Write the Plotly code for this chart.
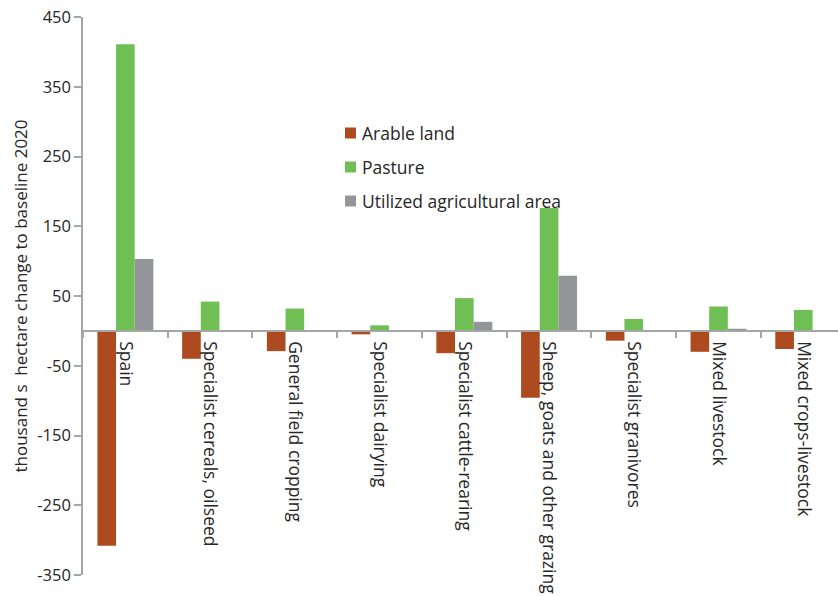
import plotly.graph_objects as go

# Farm types and change in land use versus the 2020 baseline (thousand hectares)
categories = [
    "Spain",
    "Specialist cereals, oilseed",
    "General field cropping",
    "Specialist dairying",
    "Specialist cattle-rearing",
    "Sheep, goats and other grazing",
    "Specialist granivores",
    "Mixed livestock",
    "Mixed crops-livestock",
]
arable_land = [-308, -40, -29, -5, -32, -96, -14, -30, -26]
pasture = [411, 42, 32, 8, 47, 176, 17, 35, 30]
utilized_area = [103, 0, 1, 0, 13, 79, 0.6, 3, 1]

y_ticks = [450, 350, 250, 150, 50, -50, -150, -250, -350]
y_tick_labels = ["450", "350", "250", "150", "50", "-50", "-150", "-250", "-350"]

FONT = "Open Sans"
TEXT = "#262626"
AXIS = "#A6A6A6"

series = [
    ("Arable land", arable_land, "#AE4A20"),
    ("Pasture", pasture, "#6FBF54"),
    ("Utilized agricultural area", utilized_area, "#939598"),
]

fig = go.Figure()
for name, vals, color in series:
    fig.add_trace(go.Bar(
        x=categories, y=vals, name=name,
        marker=dict(color=color, line=dict(width=0)),
        showlegend=False,
    ))

# Legend drawn as square swatches with labels beside them
legend_x, legend_top, legend_step = 345, 133, 34
for i, (name, _, color) in enumerate(series):
    cy = legend_top + i * legend_step
    fig.add_shape(
        type="rect", xref="paper", yref="paper",
        x0=(legend_x - 83) / 755, x1=(legend_x + 11 - 83) / 755,
        y0=1 - (cy - 17 + 5.5) / 558, y1=1 - (cy - 17 - 5.5) / 558,
        fillcolor=color, line=dict(width=0),
    )
    fig.add_annotation(
        xref="paper", yref="paper",
        x=(legend_x + 15 - 83) / 755, y=1 - (cy - 17) / 558,
        xanchor="left", yanchor="middle", showarrow=False,
        text=name, font=dict(size=17.5, color=TEXT, family=FONT),
    )

y_min, y_max = -350, 450

fig.update_layout(
    width=838, height=596,
    margin=dict(l=83, r=0, t=17, b=21),
    paper_bgcolor="white", plot_bgcolor="white",
    barmode="group", bargap=0.34, bargroupgap=0,
    font=dict(family=FONT, size=16, color=TEXT),
    showlegend=False,
    xaxis=dict(
        type="category", range=[-0.5, 8.41],
        anchor="free", position=(0 - y_min) / (y_max - y_min),
        showline=True, linecolor=AXIS, linewidth=1.5,
        ticks="outside", tickson="boundaries", ticklen=6,
        tickcolor=AXIS, tickwidth=1.5,
        tickangle=90, tickfont=dict(size=17.5, color=TEXT),
        ticklabelstandoff=6,
        showgrid=False, zeroline=False,
    ),
    yaxis=dict(
        range=[y_min, y_max], tickvals=y_ticks, ticktext=y_tick_labels,
        showline=True, linecolor=AXIS, linewidth=1.5,
        ticks="outside", ticklen=7, tickcolor=AXIS, tickwidth=1.5,
        tickfont=dict(size=16.5, color=TEXT),
        showgrid=False, zeroline=False,
        title=dict(text="thousand s  hectare change to baseline 2020",
                   font=dict(size=17, color=TEXT), standoff=5),
    ),
)

fig.write_html("out.html")
